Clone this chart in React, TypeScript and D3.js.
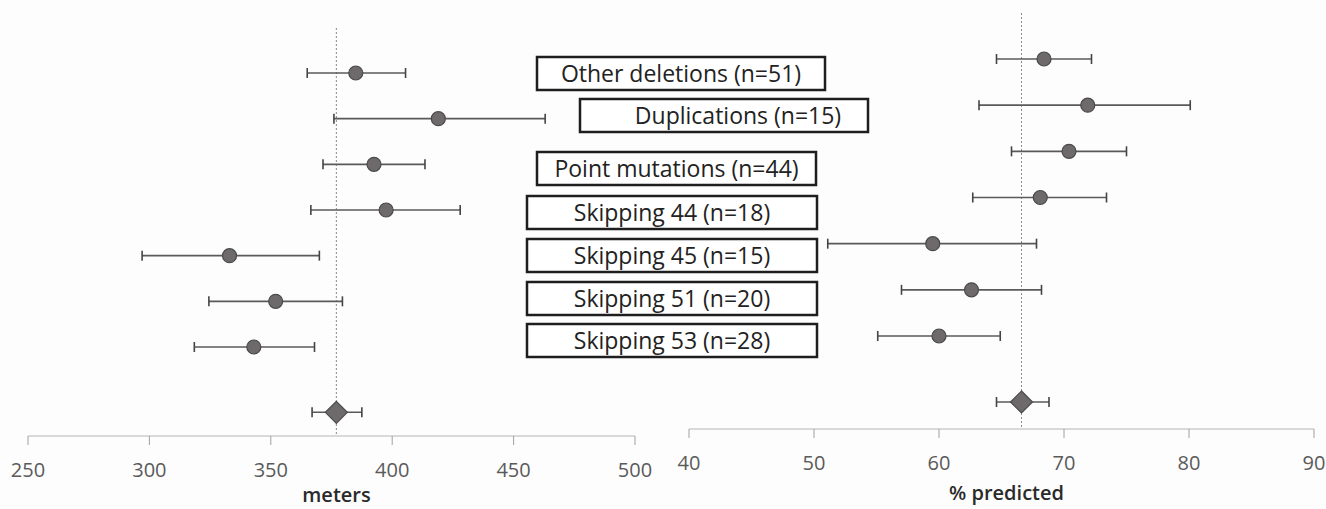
import * as d3 from "d3";

// groups, top to bottom
const groups = [
  "Other deletions (n=51)",
  "Duplications (n=15)",
  "Point mutations (n=44)",
  "Skipping 44 (n=18)",
  "Skipping 45 (n=15)",
  "Skipping 51 (n=20)",
  "Skipping 53 (n=28)",
];

// 6MWT distance, meters
const metersMean = [385, 419, 392.5, 397.5, 333, 352, 343];
const metersLow = [365, 376, 371.5, 366.5, 297, 324.5, 318.5];
const metersHigh = [405.5, 463, 413.5, 428, 370, 379.5, 368];
const metersOverall = { mean: 377, low: 367, high: 387.5 };
const metersTicks = [250, 300, 350, 400, 450, 500];

// 6MWT, % predicted
const pctMean = [68.4, 71.9, 70.4, 68.1, 59.5, 62.6, 60.0];
const pctLow = [64.6, 63.2, 65.8, 62.7, 51.1, 57.0, 55.1];
const pctHigh = [72.2, 80.1, 75.0, 73.4, 67.8, 68.2, 64.9];
const pctOverall = { mean: 66.6, low: 64.6, high: 68.8 };
const pctTicks = [40, 50, 60, 70, 80, 90];

const W = 1326;
const H = 509;
const FONT = "'Open Sans', Lato, sans-serif";
const OVERALL_ROW = 7.43;

interface PanelProps {
  x: d3.ScaleLinear<number, number>;
  y: d3.ScaleLinear<number, number>;
  mean: number[];
  low: number[];
  high: number[];
  overall: { mean: number; low: number; high: number };
  ticks: number[];
  axisY: number;
  refTop: number;
  title: string;
  titleY: number;
}

function Panel({ x, y, mean, low, high, overall, ticks, axisY, refTop, title, titleY }: PanelProps) {
  const [d0, d1] = x.domain();
  const cap = 5;
  const ox = x(overall.mean);
  const oy = y(OVERALL_ROW);
  const dm = 11;
  return (
    <g>
      {/* reference line at overall mean */}
      <line x1={ox} x2={ox} y1={refTop} y2={axisY} stroke="#8a8a8a" strokeWidth={1} strokeDasharray="2,2" />

      {/* axis */}
      <line x1={x(d0)} x2={x(d1)} y1={axisY} y2={axisY} stroke="#b5b5b5" strokeWidth={1} />
      {ticks.map((t) => (
        <g key={t}>
          <line x1={x(t)} x2={x(t)} y1={axisY} y2={axisY + 9} stroke="#a0a0a0" strokeWidth={1} />
          <text x={x(t)} y={axisY + 41} textAnchor="middle" fontSize={20} fill="#5a5a5a" fontFamily={FONT}>{t}</text>
        </g>
      ))}
      <text x={(x(d0) + x(d1)) / 2 + 5} y={titleY} textAnchor="middle" fontSize={20} fontWeight={600} fill="#2a2a2a" fontFamily={FONT}>{title}</text>

      {/* group estimates */}
      {mean.map((m, i) => (
        <g key={i}>
          <line x1={x(low[i])} x2={x(high[i])} y1={y(i)} y2={y(i)} stroke="#5a5a5a" strokeWidth={1.6} />
          <line x1={x(low[i])} x2={x(low[i])} y1={y(i) - cap} y2={y(i) + cap} stroke="#444" strokeWidth={1.6} />
          <line x1={x(high[i])} x2={x(high[i])} y1={y(i) - cap} y2={y(i) + cap} stroke="#444" strokeWidth={1.6} />
          <circle cx={x(m)} cy={y(i)} r={7} fill="#6e6a6c" stroke="#4a4a4a" strokeWidth={1.2} />
        </g>
      ))}

      {/* overall */}
      <line x1={x(overall.low)} x2={x(overall.high)} y1={oy} y2={oy} stroke="#5a5a5a" strokeWidth={1.6} />
      <line x1={x(overall.low)} x2={x(overall.low)} y1={oy - cap} y2={oy + cap} stroke="#444" strokeWidth={1.6} />
      <line x1={x(overall.high)} x2={x(overall.high)} y1={oy - cap} y2={oy + cap} stroke="#444" strokeWidth={1.6} />
      <path d={`M${ox},${oy - dm}L${ox + dm},${oy}L${ox},${oy + dm}L${ox - dm},${oy}Z`} fill="#6e6a6c" stroke="#4a4a4a" strokeWidth={1.2} />
    </g>
  );
}

// label boxes: left/right edges and tops
const boxEdges = [
  [537, 825], [580, 868], [537, 816], [527, 817], [527, 817], [527, 817], [527, 817],
];
const boxTops = [57, 99, 152, 196, 239, 282, 324];

export default function App() {
  const xL = d3.scaleLinear().domain([250, 500]).range([28, 635]);
  const yL = d3.scaleLinear().domain([0, 6]).range([73, 347]);
  const xR = d3.scaleLinear().domain([40, 90]).range([689, 1314]);
  const yR = d3.scaleLinear().domain([0, 6]).range([59, 336]);

  return (
    <svg width={W} height={H} style={{ position: "absolute", left: 0, top: 0, background: "#fdfdfd" }}>
      <Panel x={xL} y={yL} mean={metersMean} low={metersLow} high={metersHigh} overall={metersOverall}
        ticks={metersTicks} axisY={436} refTop={28} title="meters" titleY={502} />
      <Panel x={xR} y={yR} mean={pctMean} low={pctLow} high={pctHigh} overall={pctOverall}
        ticks={pctTicks} axisY={429} refTop={13} title="% predicted" titleY={500} />

      {groups.map((g, i) => {
        const [l, r] = boxEdges[i];
        const top = boxTops[i];
        const h = 33;
        const cx = i === 1 ? (l + r) / 2 + 14 : (l + r) / 2;
        return (
          <g key={g}>
            <rect x={l} y={top} width={r - l} height={h} fill="#fff" stroke="#1e1e1e" strokeWidth={2.5} />
            <text x={cx} y={top + h / 2 + 8} textAnchor="middle" fontSize={23} fill="#222" fontFamily={FONT}>{g}</text>
          </g>
        );
      })}
    </svg>
  );
}
